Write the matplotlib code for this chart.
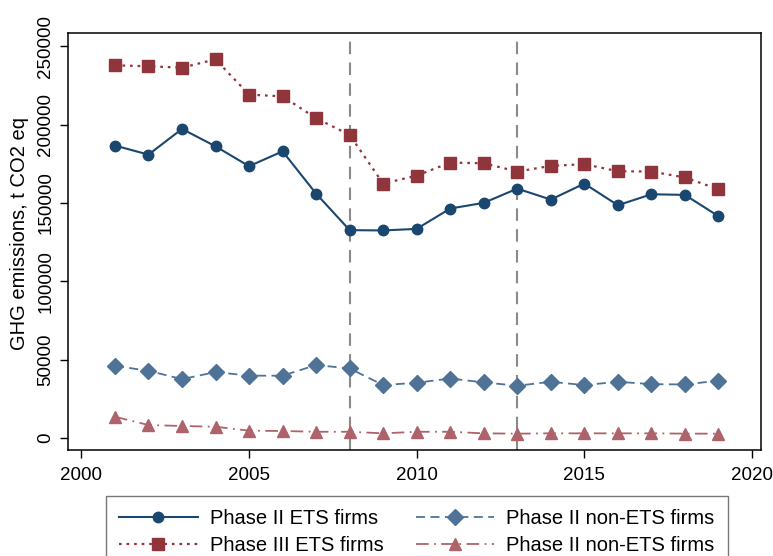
import matplotlib
matplotlib.use('Agg')
import matplotlib.pyplot as plt

plt.rcParams['font.family'] = ['Liberation Sans', 'DejaVu Sans']

years = list(range(2001, 2020))
ets2 = [186700, 180900, 197300, 186200, 173500, 183000, 156000, 132700, 132500, 133500,
        146500, 150100, 159200, 152200, 162400, 148600, 155600, 155200, 141600]
ets3 = [237900, 237300, 236400, 241700, 219200, 218100, 204100, 193500, 162400, 167500,
        175800, 175400, 170100, 173700, 174800, 170300, 170100, 166300, 158800]
nonets2 = [46100, 42900, 37600, 42100, 39800, 39800, 46600, 44400, 33800, 35300,
           38000, 35500, 33400, 35900, 33800, 35900, 34400, 34200, 36600]
nonets3 = [13600, 8300, 7700, 7200, 4700, 4500, 4000, 4000, 3000, 4000,
           4000, 3000, 2800, 3000, 3000, 3000, 3000, 2800, 2800]
phase_starts = [2008, 2013]
labels = ['Phase II ETS firms', 'Phase III ETS firms',
          'Phase II non-ETS firms', 'Phase II non-ETS firms']

fig = plt.figure(figsize=(7.73, 5.56), dpi=100)
ax = fig.add_axes([0.0884, 0.1906, 0.8961, 0.7494])

# phase boundaries
for yr in phase_starts:
    ax.axvline(yr, color='#8a8a8a', linestyle=(0, (6, 4)), linewidth=1.5, zorder=1)

l1, = ax.plot(years, ets2, color='#1A476F', linestyle='-', linewidth=1.5,
              marker='o', markersize=7.5, label=labels[0], zorder=3)
l2, = ax.plot(years, ets3, color='#90353B', linestyle=(0, (1.2, 2.2)), linewidth=1.6,
              marker='s', markersize=8, label=labels[1], zorder=3)
l3, = ax.plot(years, nonets2, color='#4E7396', linestyle=(0, (5, 3)), linewidth=1.3,
              marker='D', markersize=8, label=labels[2], zorder=3)
l4, = ax.plot(years, nonets3, color='#AD6369', linestyle=(0, (7, 3, 1, 3)), linewidth=1.3,
              marker='^', markersize=8.5, label=labels[3], zorder=3)

ax.set_xlim(1999.61, 2020.27)
ax.set_ylim(-7650, 258300)
ax.set_xticks([2000, 2005, 2010, 2015, 2020])
ax.set_yticks([0, 50000, 100000, 150000, 200000, 250000])
ax.set_yticklabels(['0', '50000', '100000', '150000', '200000', '250000'],
                   rotation=90, va='center')
ax.tick_params(direction='out', length=6, width=1, labelsize=13.5, colors='black', pad=4)
ax.tick_params(axis='x', pad=6)
ax.set_ylabel('GHG emissions, t CO2 eq', fontsize=14.5)
ax.yaxis.set_label_coords(-0.057, 0.52)
for s in ax.spines.values():
    s.set_linewidth(1.1)

fig.legend(handles=[l1, l2, l3, l4], ncol=2, loc='upper left',
           bbox_to_anchor=(106 / 773, 1 - 496 / 556),
           fontsize=14.5, frameon=True, fancybox=False, edgecolor='#555555',
           handlelength=3.9, columnspacing=1.6, borderpad=0.65, labelspacing=0.4,
           handletextpad=0.6, borderaxespad=0)

fig.savefig('out.png', dpi=100)
